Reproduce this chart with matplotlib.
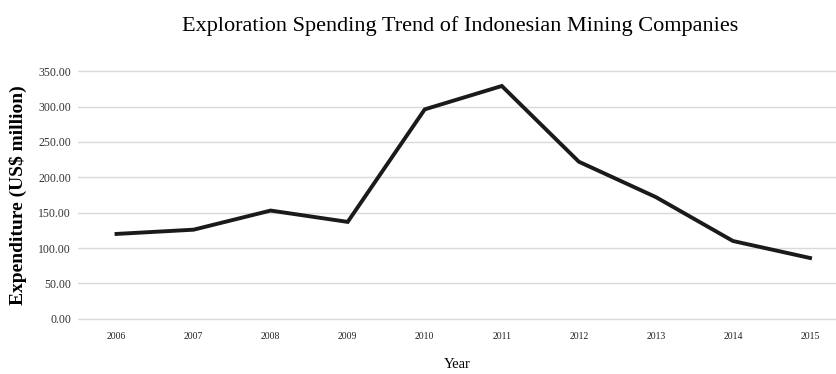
import matplotlib.pyplot as plt

years = ['2006', '2007', '2008', '2009', '2010', '2011', '2012', '2013', '2014', '2015']
spending = [120.0, 126.0, 153.0, 137.0, 296.0, 329.0, 222.0, 172.0, 110.0, 86.0]
yticks = [0, 50, 100, 150, 200, 250, 300, 350]

plt.rcParams['font.family'] = ['Liberation Serif', 'DejaVu Serif']

fig = plt.figure(figsize=(8.37, 3.74), dpi=100)
ax = fig.add_axes([78 / 837, 53 / 374, 1 - 78 / 837, 252 / 374])

x = list(range(len(years)))
ax.plot(x, spending, color='#1a1a1a', linewidth=2.8, solid_joinstyle='miter')

# small margin so the 0 and 350 gridlines are not clipped
ax.set_xlim(-0.5, 9.35)
ax.set_ylim(-3, 353)
ax.set_yticks(yticks)
ax.set_yticklabels([f'{v:.2f}' for v in yticks], fontsize=8.5, color='#333333')
ax.set_xticks(x)
ax.set_xticklabels(years, fontsize=7, color='#222222')
ax.tick_params(axis='y', length=0, pad=5)
ax.tick_params(axis='x', length=0, pad=8)
ax.grid(axis='y', color='#d9d9d9', linewidth=1)
ax.set_axisbelow(True)
for s in ax.spines.values():
    s.set_visible(False)

ax.set_xlabel('Year', fontsize=10.5, labelpad=12)
ax.set_ylabel('Expenditure (US$ million)', fontsize=14, fontweight='bold', labelpad=8)
fig.text(0.55, 1 - 26 / 374, 'Exploration Spending Trend of Indonesian Mining Companies',
         ha='center', va='center', fontsize=16)

fig.savefig('out.png', dpi=100)
